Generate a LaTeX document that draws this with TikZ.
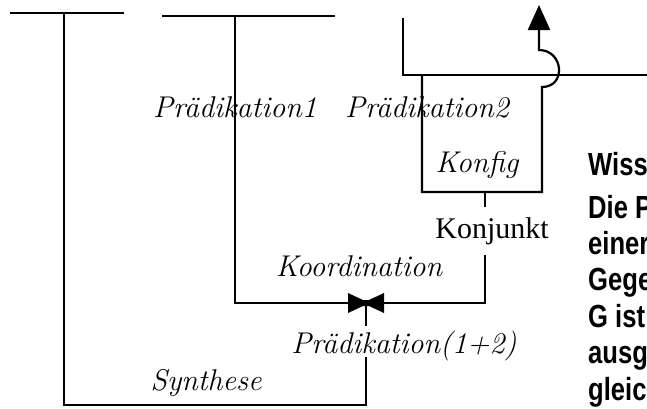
\documentclass[tikz,border=0pt]{standalone}
\usepackage{fontspec}
\newfontfamily\serifup{Liberation Serif}
\newfontfamily\sidefont{Liberation Sans}[FakeStretch=0.8]
\usetikzlibrary{arrows.meta,calc}

\begin{document}
\begin{tikzpicture}[
  x=1pt, y=-1pt,
  tree/.style={line width=2.2pt},
  term/.style={font=\fontsize{30}{36}\selectfont\itshape, anchor=base, inner sep=0pt},
  relterm/.style={font=\fontsize{30}{36}\serifup, anchor=base, inner xsep=0pt, inner ysep=10pt},
  sidetext/.style={font=\fontsize{32}{38}\sidefont\bfseries, anchor=base west, inner sep=0pt},
  arrow/.style={-{Triangle[length=25pt,width=22pt]}}
]
\useasboundingbox (0,0) rectangle (647,408);

% labels
\node[term] (p1) at (235,117) {Prädikation1};
\node[term] (p2) at (427,117) {Prädikation2};
\node[term] (konfig) at (477,172) {Konfig};
\node[relterm] (konj) at (492,238) {Konjunkt};
\node[term] (koord) at (359,276) {Koordination};
\node[term, text depth=0pt, inner ysep=4pt] (p12) at (404,353) {Prädikation(1+2)};
\node[term] (syn) at (206,390) {Synthese};

% Synthese
\coordinate (s-l) at (10,13);
\coordinate (s-r) at (124,13);
\coordinate (s-top) at (64,13);
\coordinate (s-corner) at (64,405);
\coordinate (s-end) at (366,405);
\draw[tree] (s-l) -- (s-r);
\draw[tree] (s-top) -- (s-corner) -- (s-end) -- (s-end |- p12.south);

% Koordination
\coordinate (k-l) at (162,16);
\coordinate (k-r) at (335,16);
\coordinate (k-top) at (235,16);
\coordinate (k-corner) at (235,303);
\coordinate (k-end) at (485,303);
\coordinate (bow) at (366,303);
\draw[tree] (k-l) -- (k-r);
\draw[tree] (k-top) -- (k-corner) -- (k-end) -- (k-end |- konj.south);
\fill ($(bow)+(-18,-10)$) -- ($(bow)+(-3,-3)$) -- ($(bow)+(3,-3)$) -- ($(bow)+(18,-10)$)
  -- ($(bow)+(18,10)$) -- ($(bow)+(3,3)$) -- ($(bow)+(-3,3)$) -- ($(bow)+(-18,10)$) -- cycle;
\draw[tree] (bow) -- (bow |- p12.north);

% Konfig
\coordinate (h-l) at (403,18);
\coordinate (h-c) at (403,75);
\coordinate (h-r) at (647,75);
\coordinate (c-tl) at (422,75);
\coordinate (c-bl) at (422,192);
\coordinate (c-br) at (542,192);
\coordinate (c-hop) at (542,87);
\coordinate (c-up) at (539,50);
\coordinate (c-tip) at (539,5);
\draw[tree] (h-l) -- (h-c) -- (h-r);
\draw[tree, arrow] (c-tl) -- (c-bl) -- (c-br) -- (c-hop)
  to[out=0, in=0, looseness=1.7] (c-up) -- (c-tip);
\draw[tree] (k-end |- c-bl) -- (k-end |- konj.north);

% cut-off text
\node[sidetext] (wiss) at (588,175) {Wiss};
\foreach \txt [count=\i] in {Die P,einer,Gege,G ist,ausg,gleic}
  \node[sidetext] (side\i) at (588,{218+36.4*(\i-1)}) {\txt};
\end{tikzpicture}
\end{document}
